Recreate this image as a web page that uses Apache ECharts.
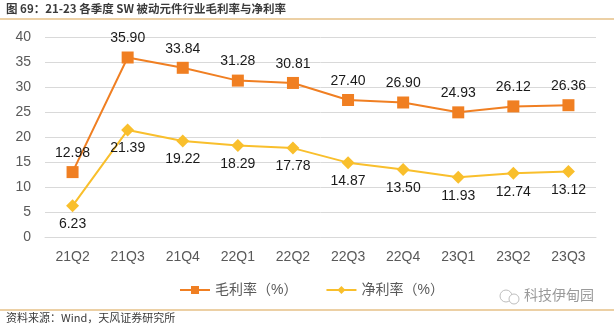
<!DOCTYPE html>
<html>
<head>
<meta charset="utf-8">
<script src="https://cdn.jsdelivr.net/npm/echarts@6/dist/echarts.min.js"></script>
<style>
html,body{margin:0;padding:0;background:#fff;}
#chart{width:614px;height:326px;}
</style>
</head>
<body>
<div id="chart"></div>
<script>
// Quarters and margin values (%)
const quarters = ['21Q2','21Q3','21Q4','22Q1','22Q2','22Q3','22Q4','23Q1','23Q2','23Q3'];
const grossMargin = [12.98, 35.90, 33.84, 31.28, 30.81, 27.40, 26.90, 24.93, 26.12, 26.36];
const netMargin = [6.23, 21.39, 19.22, 18.29, 17.78, 14.87, 13.50, 11.93, 12.74, 13.12];
const yTicks = [0, 5, 10, 15, 20, 25, 30, 35, 40];

const titleText = '图 69：21-23 各季度 SW 被动元件行业毛利率与净利率';
const sourceText = '资料来源：Wind，天风证券研究所';
const grossName = '毛利率（%）';
const netName = '净利率（%）';

const ORANGE = '#F07F22';
const YELLOW = '#F9BF2C';
const FONT = '"Liberation Sans", Arial, "Noto Sans CJK SC", sans-serif';

const chart = echarts.init(document.getElementById('chart'));
chart.setOption({
  animation: false,
  textStyle: { fontFamily: FONT },
  grid: { left: 45, right: 18, top: 37, bottom: 89 },
  xAxis: {
    type: 'category',
    data: quarters,
    boundaryGap: true,
    axisLine: { lineStyle: { color: '#D9D9D9', width: 1 } },
    axisTick: { show: false },
    axisLabel: { color: '#595959', fontSize: 14, margin: 13, fontFamily: FONT }
  },
  yAxis: {
    type: 'value',
    min: yTicks[0],
    max: yTicks[yTicks.length - 1],
    interval: 5,
    axisLine: { show: false },
    axisTick: { show: false },
    axisLabel: { color: '#595959', fontSize: 14, margin: 14, fontFamily: FONT },
    splitLine: { lineStyle: { color: '#D9D9D9', width: 1 } }
  },
  legend: {
    top: 283,
    left: 179,
    padding: 0,
    itemGap: 28,
    itemWidth: 30,
    itemHeight: 10,
    textStyle: { color: '#595959', fontSize: 14, fontFamily: FONT },
    data: [grossName, netName]
  },
  series: [
    {
      name: grossName,
      type: 'line',
      data: grossMargin,
      symbol: 'rect',
      symbolSize: 12,
      lineStyle: { color: ORANGE, width: 2 },
      itemStyle: { color: ORANGE },
      label: {
        show: true,
        position: 'top',
        distance: 6,
        color: '#1a1a1a',
        fontSize: 14,
        fontFamily: FONT,
        formatter: p => p.value.toFixed(2)
      }
    },
    {
      name: netName,
      type: 'line',
      data: netMargin,
      symbol: 'diamond',
      symbolSize: 13,
      lineStyle: { color: YELLOW, width: 2 },
      itemStyle: { color: YELLOW },
      label: {
        show: true,
        position: 'bottom',
        distance: 5,
        color: '#1a1a1a',
        fontSize: 14,
        fontFamily: FONT,
        formatter: p => p.value.toFixed(2)
      }
    }
  ],
  graphic: [
    {
      type: 'text', left: 6, top: 3,
      style: { text: titleText, fill: '#3a3a3a', font: 'bold 11.5px "Noto Sans CJK SC", sans-serif' }
    },
    {
      type: 'line', shape: { x1: 0, y1: 19, x2: 614, y2: 19 },
      style: { stroke: '#D9A24C', lineWidth: 1.2 }
    },
    {
      type: 'line', shape: { x1: 0, y1: 310, x2: 614, y2: 310 },
      style: { stroke: '#D9A24C', lineWidth: 1.2 }
    },
    {
      type: 'text', left: 6, top: 312,
      style: { text: sourceText, fill: '#3a3a3a', font: '11px "Noto Sans CJK SC", sans-serif' }
    },
    {
      type: 'circle', shape: { cx: 506, cy: 296, r: 6 },
      style: { fill: 'none', stroke: '#bdbdbd', lineWidth: 1 }
    },
    {
      type: 'circle', shape: { cx: 514, cy: 299, r: 5 },
      style: { fill: '#fff', stroke: '#bdbdbd', lineWidth: 1 }
    },
    {
      type: 'text', left: 524, top: 288,
      style: { text: '科技伊甸园', fill: '#9a9a9a', font: '14px "Noto Sans CJK SC", sans-serif' }
    }
  ]
});
</script>
</body>
</html>
